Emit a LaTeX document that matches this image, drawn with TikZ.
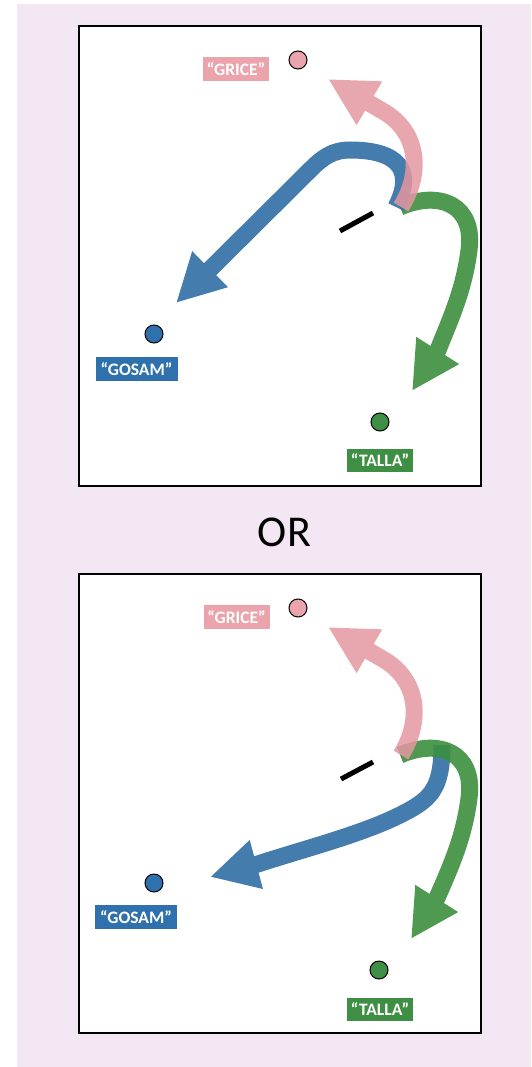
\documentclass[tikz,border=0pt]{standalone}
\usepackage{fontspec}
\setmainfont{Carlito}
\usetikzlibrary{arrows.meta}
\definecolor{bgc}{HTML}{F2E7F2}
\definecolor{pinkl}{HTML}{EBA3AC}
\definecolor{bluel}{HTML}{2F71AD}
\definecolor{greenl}{HTML}{3E8F43}
\definecolor{pinka}{HTML}{E597A1}
\definecolor{bluea}{HTML}{2F6EA5}
\definecolor{greena}{HTML}{3C8F3F}
\begin{document}
\begin{tikzpicture}[x=1pt,y=-1pt,
  panel/.style={draw=black,line width=2pt,fill=white},
  dot/.style={circle,draw=black,line width=1pt,minimum size=18pt,inner sep=0pt},
  lbl/.style={inner sep=0pt,minimum height=24pt,text=white,font=\fontsize{17.5}{17.5}\selectfont\bfseries},
  fat/.style={line width=17pt,-{Triangle[length=48pt,width=47pt]}},
  dashmark/.style={line width=5pt}
]
\useasboundingbox (0,0) rectangle (531,1067);
\fill[bgc] (17,4) rectangle (531,1067);

% ---------- top panel ----------
\filldraw[panel] (79,26) rectangle (481,486);
\node[dot,fill=pinkl] (g1) at (298,60) {};
\node[dot,fill=bluel] (s1) at (154,334) {};
\node[dot,fill=greenl] (t1) at (380,422) {};
\node[lbl,fill=pinkl,minimum width=66pt] (gl1) at (236,69) {“GRICE”};
\node[lbl,fill=bluel,minimum width=82pt] (sl1) at (136.5,369) {“GOSAM”};
\node[lbl,fill=greenl,minimum width=66pt,minimum height=23pt] (tl1) at (380,460.5) {“TALLA”};
\coordinate (o1g) at (400,207);
\coordinate (o1b) at (396,207);
\coordinate (o1p) at (401,207);
\coordinate (e1g) at (412,391);
\coordinate (e1b) at (176,303);
\coordinate (e1p) at (328,79);
\begin{scope}[transparency group,opacity=0.9]
\draw[fat,greena] (o1g) .. controls (440,190) and (475,205) .. (469,250) .. controls (464,290) and (450,320) .. (438,350) -- (e1g);
\end{scope}
\begin{scope}[transparency group,opacity=0.9]
\draw[fat,bluea] (o1b) .. controls (415,170) and (398,150) .. (350,150) .. controls (332,150) and (322,158) .. (310,170) -- (e1b);
\end{scope}
\begin{scope}[transparency group,opacity=0.85]
\draw[fat,pinka] (o1p) .. controls (421,175) and (420,135) .. (386,113) -- (e1p);
\end{scope}
\draw[dashmark] (340,231) -- (373,213);

% ---------- OR ----------
\node[inner sep=0pt,font=\fontsize{44}{44}\selectfont] (or) at (284.5,532) {OR};

% ---------- bottom panel ----------
\filldraw[panel] (79,574) rectangle (481,1033);
\node[dot,fill=pinkl] (g2) at (298,608) {};
\node[dot,fill=bluel] (s2) at (154,883) {};
\node[dot,fill=greenl] (t2) at (379,970) {};
\node[lbl,fill=pinkl,minimum width=66pt] (gl2) at (236.5,617) {“GRICE”};
\node[lbl,fill=bluel,minimum width=82pt] (sl2) at (136,917) {“GOSAM”};
\node[lbl,fill=greenl,minimum width=66pt,minimum height=23pt] (tl2) at (380,1009) {“TALLA”};
\coordinate (o2g) at (400,755);
\coordinate (o2b) at (442,745);
\coordinate (o2p) at (401,755);
\coordinate (e2g) at (411,939);
\coordinate (e2b) at (210,877);
\coordinate (e2p) at (328,627);
\begin{scope}[transparency group,opacity=0.9]
\draw[fat,bluea] (o2b) .. controls (442,790) and (430,800) .. (400,815) .. controls (360,835) and (300,850) .. (258,864) -- (e2b);
\end{scope}
\begin{scope}[transparency group,opacity=0.9]
\draw[fat,greena] (o2g) .. controls (440,738) and (475,753) .. (469,798) .. controls (464,838) and (450,868) .. (437,898) -- (e2g);
\end{scope}
\begin{scope}[transparency group,opacity=0.85]
\draw[fat,pinka] (o2p) .. controls (421,723) and (420,683) .. (386,661) -- (e2p);
\end{scope}
\draw[dashmark] (341,779) -- (373,762);
\end{tikzpicture}
\end{document}
